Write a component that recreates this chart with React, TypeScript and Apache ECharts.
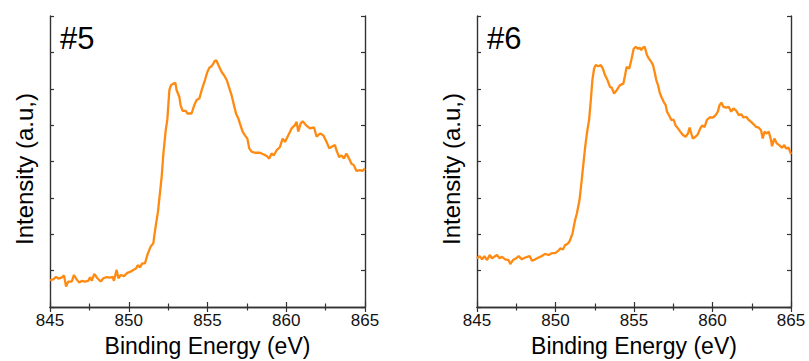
import React, { useEffect, useRef } from "react";
import * as echarts from "echarts";

const energies5 = [
  845.0, 845.21, 845.38, 845.53, 845.74, 845.89, 846.02, 846.16, 846.38, 846.52, 846.69, 846.86,
  847.01, 847.22, 847.43, 847.54, 847.65, 847.81, 848.01, 848.22, 848.39, 848.6, 848.81, 848.98,
  849.06, 849.23, 849.34, 849.49, 849.7, 849.91, 850.12, 850.29, 850.46, 850.57, 850.71, 850.86,
  851.03, 851.18, 851.29, 851.39, 851.56, 851.62, 851.72, 851.85, 851.96, 852.09, 852.2, 852.35,
  852.45, 852.52, 852.58, 852.68, 852.83, 852.96, 853.04, 853.21, 853.29, 853.42, 853.63, 853.72,
  853.99, 854.16, 854.31, 854.48, 854.63, 854.84, 854.99, 855.12, 855.26, 855.37, 855.47, 855.58,
  855.69, 855.9, 856.05, 856.22, 856.39, 856.53, 856.68, 856.81, 856.96, 857.06, 857.23, 857.38,
  857.53, 857.65, 857.8, 858.01, 858.33, 858.54, 858.76, 858.92, 859.07, 859.22, 859.39, 859.6,
  859.77, 859.92, 860.13, 860.34, 860.55, 860.66, 860.76, 860.91, 861.04, 861.25, 861.5, 861.76,
  861.93, 862.14, 862.35, 862.56, 862.73, 862.94, 863.09, 863.19, 863.36, 863.51, 863.66, 863.82,
  863.99, 864.14, 864.29, 864.46, 864.67, 864.84, 865.0,
];
const intensity5 = [
  0.74, 0.76, 0.83, 0.78, 0.81, 0.87, 0.56, 0.7, 0.7, 0.88, 0.76, 0.67,
  0.72, 0.7, 0.72, 0.82, 0.72, 0.91, 0.79, 0.7, 0.79, 0.82, 0.81, 0.83,
  0.72, 1.02, 0.79, 0.88, 0.85, 0.94, 0.97, 1.02, 1.06, 1.15, 1.09, 1.2,
  1.2, 1.43, 1.55, 1.66, 1.75, 1.95, 2.25, 2.6, 3.05, 3.58, 4.22, 4.87,
  5.15, 5.6, 5.96, 6.1, 6.14, 6.16, 5.96, 5.78, 5.55, 5.39, 5.39, 5.32,
  5.32, 5.55, 5.69, 5.73, 5.96, 6.24, 6.46, 6.58, 6.62, 6.69, 6.77, 6.77,
  6.65, 6.46, 6.37, 6.24, 6.01, 5.82, 5.55, 5.32, 5.18, 5.04, 4.82, 4.72,
  4.63, 4.36, 4.27, 4.24, 4.24, 4.2, 4.15, 4.08, 4.22, 4.17, 4.31, 4.4,
  4.63, 4.54, 4.72, 4.91, 5.0, 5.09, 4.82, 5.04, 5.11, 5.0, 4.91, 4.94,
  4.68, 4.77, 4.72, 4.54, 4.36, 4.42, 4.45, 4.31, 4.12, 4.17, 4.08, 4.22,
  4.08, 3.94, 3.9, 3.74, 3.76, 3.74, 3.81,
];

const energies6 = [
  845.0, 845.17, 845.32, 845.47, 845.64, 845.81, 845.95, 846.1, 846.27, 846.44, 846.59, 846.8,
  847.01, 847.12, 847.29, 847.5, 847.65, 847.86, 848.07, 848.35, 848.5, 848.71, 848.92, 849.13,
  849.34, 849.56, 849.77, 849.98, 850.19, 850.3, 850.47, 850.61, 850.76, 850.89, 850.97, 851.08,
  851.25, 851.36, 851.53, 851.67, 851.78, 851.89, 852.03, 852.14, 852.25, 852.35, 852.46, 852.56,
  852.73, 852.88, 853.01, 853.16, 853.31, 853.47, 853.58, 853.73, 853.9, 854.11, 854.32, 854.43,
  854.53, 854.7, 854.83, 854.98, 855.11, 855.26, 855.36, 855.46, 855.57, 855.68, 855.83, 855.95,
  856.1, 856.21, 856.31, 856.42, 856.53, 856.63, 856.74, 856.89, 857.02, 857.1, 857.23, 857.38,
  857.52, 857.65, 857.8, 857.95, 858.12, 858.29, 858.44, 858.54, 858.65, 858.75, 858.92, 859.07,
  859.22, 859.35, 859.5, 859.64, 859.81, 860.02, 860.19, 860.34, 860.45, 860.57, 860.7, 860.87,
  861.04, 861.19, 861.34, 861.51, 861.68, 861.83, 861.97, 862.14, 862.31, 862.46, 862.61, 862.78,
  862.95, 863.09, 863.2, 863.31, 863.46, 863.58, 863.73, 863.79, 863.94, 864.09, 864.25, 864.42,
  864.57, 864.68, 864.85, 865.0,
];
const intensity6 = [
  1.34, 1.4, 1.31, 1.4, 1.29, 1.43, 1.34, 1.38, 1.43, 1.34, 1.38, 1.31,
  1.29, 1.18, 1.29, 1.34, 1.4, 1.31, 1.36, 1.4, 1.27, 1.31, 1.36, 1.4,
  1.46, 1.43, 1.48, 1.48, 1.55, 1.61, 1.58, 1.7, 1.73, 1.8, 1.89, 2.02,
  2.39, 2.57, 2.94, 3.49, 3.95, 4.4, 4.86, 5.14, 5.69, 6.24, 6.56, 6.65,
  6.62, 6.65, 6.56, 6.37, 6.24, 6.05, 6.03, 5.87, 5.96, 6.1, 6.14, 6.37,
  6.6, 6.56, 6.79, 7.1, 7.15, 7.1, 7.13, 7.06, 7.13, 7.15, 6.92, 6.83,
  6.74, 6.65, 6.47, 6.24, 6.1, 5.91, 5.78, 5.64, 5.55, 5.37, 5.27, 5.14,
  5.15, 4.99, 4.91, 4.82, 4.73, 4.68, 4.77, 4.93, 4.77, 4.63, 4.68, 4.75,
  4.91, 4.99, 4.95, 5.14, 5.21, 5.21, 5.27, 5.37, 5.55, 5.62, 5.5, 5.48,
  5.5, 5.37, 5.46, 5.4, 5.27, 5.3, 5.21, 5.23, 5.14, 5.09, 5.03, 4.95,
  4.93, 4.86, 4.63, 4.82, 4.77, 4.82, 4.59, 4.42, 4.63, 4.5, 4.45, 4.38,
  4.45, 4.36, 4.38, 4.2,
];

const panelLabels = ["#5", "#6"];
const xTitle = "Binding Energy (eV)";
const yTitle = "Intensity (a.u,)";

const FONT = "Liberation Sans, Arial, sans-serif";
const AXIS_COLOR = "#333";
const LINE_COLOR = "#ff8a12";

const grids = [
  { left: 50, top: 16, width: 315, height: 291 },
  { left: 477, top: 16, width: 314, height: 291 },
];

export default function App() {
  const ref = useRef<HTMLDivElement>(null);
  useEffect(() => {
    document.body.style.margin = "0";
    if (!ref.current) return;
    const chart = echarts.init(ref.current, null, { renderer: "svg" });

    const xAxes: any[] = [];
    const yAxes: any[] = [];
    grids.forEach((_, gi) => {
      const axisLine = { show: true, lineStyle: { color: AXIS_COLOR, width: 1.4 } };
      xAxes.push({
        type: "value", gridIndex: gi, position: "bottom", min: 845, max: 865, interval: 5,
        axisLine, axisTick: { inside: true, length: 5, lineStyle: { color: AXIS_COLOR, width: 1.2 } },
        minorTick: { show: true, splitNumber: 2, length: 3.5, lineStyle: { color: AXIS_COLOR, width: 1.2 } },
        splitLine: { show: false }, minorSplitLine: { show: false },
        axisLabel: { show: true, fontSize: 17, fontFamily: FONT, color: "#111", margin: 5 },
      });
      xAxes.push({
        type: "value", gridIndex: gi, position: "top", min: 845, max: 865, interval: 5,
        axisLine, axisTick: { inside: true, length: 5, lineStyle: { color: AXIS_COLOR, width: 1.2 } },
        minorTick: { show: true, splitNumber: 2, length: 3.5, lineStyle: { color: AXIS_COLOR, width: 1.2 } },
        splitLine: { show: false }, axisLabel: { show: false },
      });
      yAxes.push({
        type: "value", gridIndex: gi, position: "left", min: 0, max: 8, interval: 1,
        axisLine, axisTick: { inside: true, length: 4, lineStyle: { color: AXIS_COLOR, width: 1.2 } },
        splitLine: { show: false }, axisLabel: { show: false },
      });
      yAxes.push({
        type: "value", gridIndex: gi, position: "right", min: 0, max: 8, interval: 1,
        axisLine, axisTick: { inside: true, length: 4, lineStyle: { color: AXIS_COLOR, width: 1.2 } },
        splitLine: { show: false }, axisLabel: { show: false },
      });
    });

    const series = [
      { e: energies5, v: intensity5 },
      { e: energies6, v: intensity6 },
    ].map((s, gi) => ({
      type: "line",
      xAxisIndex: gi * 2,
      yAxisIndex: gi * 2,
      data: s.e.map((x, i) => [x, s.v[i]]),
      showSymbol: false,
      symbol: "none",
      lineStyle: { color: LINE_COLOR, width: 2.3 },
      z: 3,
    }));

    const graphics: any[] = [];
    grids.forEach((g, gi) => {
      graphics.push({
        type: "text", left: g.left + 10, top: 23,
        style: { text: panelLabels[gi], font: `31px ${FONT}`, fill: "#000" },
      });
      graphics.push({
        type: "text", x: g.left + g.width / 2, y: 346,
        style: { text: xTitle, font: `23px ${FONT}`, fill: "#000", align: "center", verticalAlign: "middle" },
      });
      graphics.push({
        type: "text", x: gi === 0 ? 24 : 451, y: 169, rotation: Math.PI / 2,
        style: { text: yTitle, font: `24px ${FONT}`, fill: "#000", align: "center", verticalAlign: "middle" },
      });
    });

    chart.setOption({
      animation: false,
      backgroundColor: "#fff",
      grid: grids.map((g) => ({ ...g, containLabel: false })),
      xAxis: xAxes,
      yAxis: yAxes,
      series,
      graphic: graphics,
    });
    return () => chart.dispose();
  }, []);
  return <div ref={ref} style={{ width: 809, height: 361 }} />;
}
